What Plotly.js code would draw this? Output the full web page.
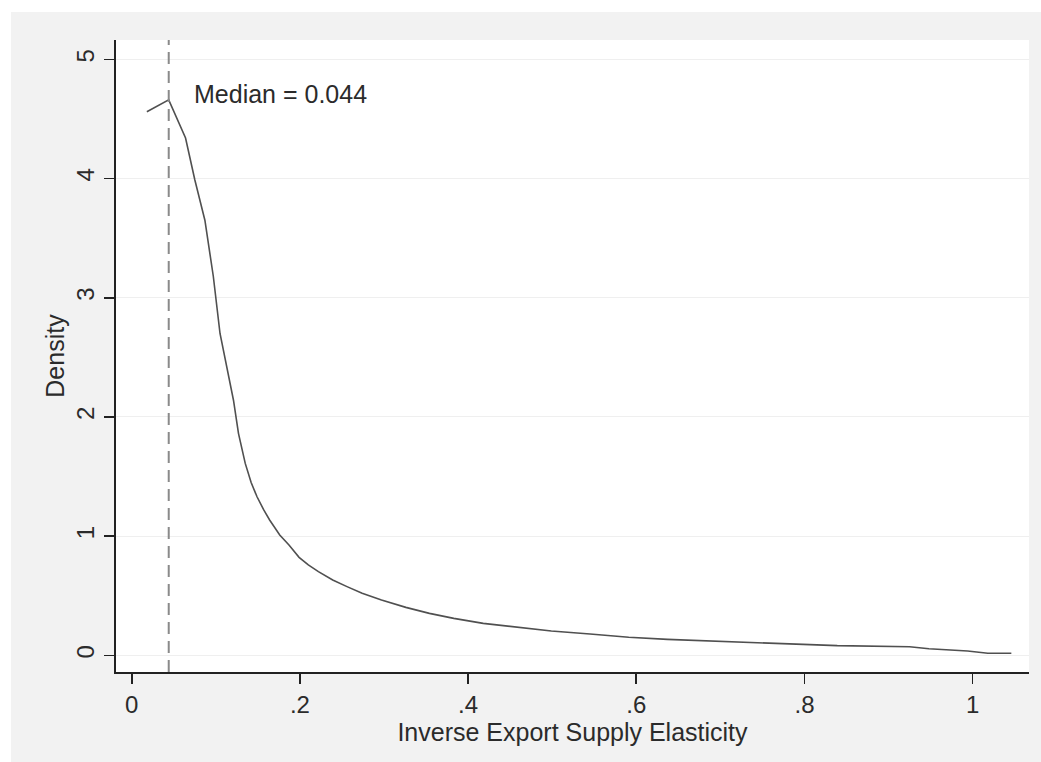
<!DOCTYPE html>
<html>
<head>
<meta charset="utf-8">
<script src="https://cdn.plot.ly/plotly-3.0.1.min.js"></script>
<style>
  html, body { margin: 0; padding: 0; background: #ffffff; }
  #chart { position: absolute; left: 11px; top: 12px; width: 1030px; height: 750px; }
</style>
</head>
<body>
<div id="chart"></div>
<script>
// Kernel density of inverse export supply elasticity
const elasticity = [0.018, 0.044, 0.064, 0.075, 0.087, 0.097, 0.105, 0.113, 0.121, 0.127,
  0.135, 0.142, 0.149, 0.157, 0.164, 0.176, 0.187, 0.199, 0.210, 0.222, 0.239, 0.256,
  0.274, 0.297, 0.326, 0.354, 0.383, 0.418, 0.458, 0.499, 0.545, 0.591,
  0.637, 0.700, 0.770, 0.839, 0.925, 0.948, 0.994, 1.018, 1.046];
const density = [4.56, 4.66, 4.34, 3.99, 3.65, 3.18, 2.70, 2.42, 2.14, 1.86,
  1.61, 1.45, 1.33, 1.22, 1.135, 1.01, 0.925, 0.822, 0.758, 0.702, 0.632, 0.576,
  0.520, 0.464, 0.402, 0.352, 0.310, 0.268, 0.235, 0.204, 0.179, 0.151,
  0.134, 0.117, 0.097, 0.081, 0.072, 0.055, 0.036, 0.017, 0.017];
const median = 0.044;
const medianLabel = "Median = 0.044";
const xTickVals = [0, 0.2, 0.4, 0.6, 0.8, 1];
const xTickText = ["0", ".2", ".4", ".6", ".8", "1"];
const yTickVals = [0, 1, 2, 3, 4, 5];
const yTickText = ["0", "1", "2", "3", "4", "5"];
const xTitle = "Inverse Export Supply Elasticity";
const yTitle = "Density";

const FONT = "Liberation Sans, Arial, Helvetica, sans-serif";
const TXT = "#2b2b2b";

const traces = [{
  x: elasticity,
  y: density,
  type: "scatter",
  mode: "lines",
  line: { color: "#505050", width: 1.6 },
  hoverinfo: "x+y",
  showlegend: false
}];

const layout = {
  width: 1030,
  height: 750,
  margin: { l: 105, r: 12, t: 28, b: 90 },
  paper_bgcolor: "#f2f2f2",
  plot_bgcolor: "#ffffff",
  showlegend: false,
  font: { family: FONT, color: TXT, size: 24 },
  xaxis: {
    range: [-0.0187, 1.067],
    tickmode: "array",
    tickvals: xTickVals,
    ticktext: xTickText,
    ticks: "outside",
    ticklen: 10,
    tickwidth: 1.6,
    tickcolor: "#222222",
    showline: true,
    linecolor: "#222222",
    linewidth: 2,
    showgrid: false,
    zeroline: false,
    tickfont: { family: FONT, size: 24, color: TXT },
    title: { text: xTitle, font: { family: FONT, size: 25, color: TXT }, standoff: 0 }
  },
  yaxis: {
    range: [-0.140, 5.162],
    tickmode: "array",
    tickvals: yTickVals,
    ticktext: yTickText,
    tickangle: -90,
    ticks: "outside",
    ticklen: 10,
    tickwidth: 1.6,
    tickcolor: "#222222",
    showline: true,
    linecolor: "#222222",
    linewidth: 2,
    showgrid: true,
    gridcolor: "#efefef",
    gridwidth: 1,
    zeroline: false,
    tickfont: { family: FONT, size: 24, color: TXT },
    title: { text: yTitle, font: { family: FONT, size: 25, color: TXT }, standoff: 1 }
  },
  shapes: [{
    type: "line",
    xref: "x", yref: "paper",
    x0: median, x1: median, y0: 0, y1: 1,
    line: { color: "#8a8a8a", width: 2, dash: "12px,7px" }
  }],
  annotations: [{
    x: median, y: 4.709,
    xref: "x", yref: "y",
    xshift: 23,
    text: medianLabel,
    showarrow: false,
    xanchor: "left",
    yanchor: "middle",
    font: { family: FONT, size: 25, color: TXT }
  }]
};

Plotly.newPlot("chart", traces, layout, { displayModeBar: false, staticPlot: true });
</script>
</body>
</html>
